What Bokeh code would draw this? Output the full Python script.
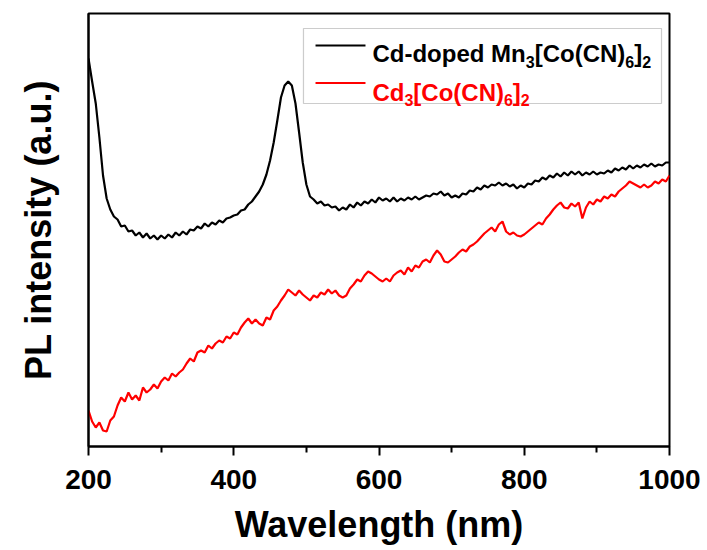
from bokeh.plotting import figure
from bokeh.models import Range1d, FixedTicker, Label, BoxAnnotation
from bokeh.embed import file_html
from bokeh.resources import INLINE
import numpy as np

# ---- data ----
wavelength = np.arange(200, 1001, 5)

mn_doped = [
    389, 366, 344, 310, 272, 249, 238, 231, 228, 221,
    222, 216, 217, 212, 215, 210, 214, 209, 212, 208,
    212, 209, 213, 210, 215, 212, 216, 213, 218, 217,
    221, 219, 224, 221, 225, 223, 227, 225, 229, 230,
    232, 233, 237, 238, 243, 246, 251, 256, 263, 273,
    287, 305, 327, 350, 362, 366, 362, 344, 315, 285,
    263, 251, 248, 244, 246, 242, 243, 240, 241, 237,
    240, 238, 243, 240, 245, 242, 246, 244, 248, 245,
    250, 247, 249, 246, 250, 246, 249, 247, 250, 248,
    251, 248, 250, 252, 251, 254, 253, 256, 252, 254,
    250, 252, 250, 254, 253, 257, 256, 260, 258, 262,
    260, 263, 262, 265, 262, 264, 261, 263, 259, 262,
    260, 264, 263, 267, 266, 270, 268, 272, 270, 274,
    271, 275, 272, 276, 273, 276, 272, 275, 273, 276,
    273, 275, 274, 277, 275, 279, 277, 280, 278, 282,
    279, 282, 280, 283, 281, 284, 281, 283, 282, 285,
    285,
]

cd_pure = [
    37, 26, 20, 25, 17, 16, 27, 31, 42, 50,
    46, 55, 48, 52, 47, 60, 55, 58, 63, 59,
    66, 70, 67, 74, 71, 75, 78, 84, 89, 86,
    95, 97, 95, 102, 99, 104, 107, 105, 111, 109,
    115, 113, 120, 125, 129, 124, 128, 124, 122, 130,
    128, 137, 141, 147, 152, 158, 155, 152, 157, 153,
    150, 147, 152, 150, 155, 153, 158, 154, 157, 152,
    150, 152, 159, 163, 168, 166, 172, 176, 174, 171,
    168, 166, 169, 166, 172, 175, 177, 173, 180, 176,
    182, 180, 186, 188, 185, 192, 197, 193, 186, 185,
    188, 191, 195, 198, 196, 201, 203, 206, 210, 214,
    217, 220, 216, 223, 226, 216, 213, 215, 212, 211,
    213, 216, 219, 222, 225, 223, 229, 233, 238, 242,
    245, 240, 239, 244, 241, 245, 229, 240, 246, 243,
    248, 246, 251, 249, 253, 251, 256, 259, 262, 266,
    264, 262, 260, 263, 260, 262, 266, 264, 268, 266,
    272,
]

x_ticks = [200, 400, 600, 800, 1000]
x_minor = [300, 500, 700, 900]

# legend label pieces: (text, is_subscript)
label_black = [("Cd-doped Mn", False), ("3", True), ("[Co(CN)", False), ("6", True), ("]", False), ("2", True)]
label_red = [("Cd", False), ("3", True), ("[Co(CN)", False), ("6", True), ("]", False), ("2", True)]

FONT = "Liberation Sans"

p = figure(width=707, height=550, x_range=Range1d(200, 1000), y_range=Range1d(1, 434),
           output_backend="svg", toolbar_location=None,
           min_border_left=88, min_border_right=38, min_border_top=13, min_border_bottom=104)
p.grid.visible = False
p.outline_line_color = "black"
p.outline_line_width = 2
p.background_fill_color = "white"
p.border_fill_color = "white"

xa = p.xaxis[0]
xa.ticker = FixedTicker(ticks=x_ticks, minor_ticks=x_minor)
xa.major_tick_in = 0
xa.major_tick_out = 9
xa.minor_tick_in = 0
xa.minor_tick_out = 6
xa.axis_line_width = 2
xa.major_tick_line_width = 2
xa.minor_tick_line_width = 2
xa.major_label_text_font = FONT
xa.major_label_text_font_style = "bold"
xa.major_label_text_font_size = "28px"
xa.major_label_text_color = "black"
xa.major_label_standoff = 14
xa.axis_label = "Wavelength (nm)"
xa.axis_label_text_font = FONT
xa.axis_label_text_font_style = "bold"
xa.axis_label_text_font_size = "36px"
xa.axis_label_text_color = "black"
xa.axis_label_standoff = 12

ya = p.yaxis[0]
ya.ticker = FixedTicker(ticks=[])
ya.major_tick_in = 0
ya.major_tick_out = 0
ya.minor_tick_in = 0
ya.minor_tick_out = 0
ya.axis_line_width = 2
ya.major_label_text_font_size = "0px"
ya.axis_label = "PL intensity (a.u.)"
ya.axis_label_text_font = FONT
ya.axis_label_text_font_style = "bold"
ya.axis_label_text_font_size = "36px"
ya.axis_label_text_color = "black"
ya.axis_label_standoff = 30

# legend box (drawn beneath the curves; the curves never enter it)
p.add_layout(BoxAnnotation(left=496, right=989, top=419, bottom=344,
                           fill_color="white", fill_alpha=1.0,
                           line_color="#555555", line_width=1.2, level="underlay"))

p.line(wavelength, mn_doped, line_color="black", line_width=2.2)
p.line(wavelength, cd_pure, line_color="#ff0000", line_width=2.2)

# legend sample lines
p.segment(x0=[512.6, 512.6], y0=[402, 364.5], x1=[581.4, 581.4], y1=[402, 364.5],
          line_color=["black", "#ff0000"], line_width=2)

# Arial/Liberation Sans Bold advance widths (per 1000 em)
W = {"C": 722, "d": 611, "-": 333, "o": 611, "p": 611, "e": 556, " ": 278, "M": 833,
     "n": 611, "[": 333, "(": 333, "N": 722, ")": 333, "]": 333,
     "2": 556, "3": 556, "6": 556}

def put(pieces, y, color):
    off = 0.0
    for txt, sub in pieces:
        size = 16 if sub else 24
        p.add_layout(Label(x=591, y=y, x_offset=off, y_offset=(-8 if sub else 0), text=txt,
                           text_font=FONT, text_font_style="bold",
                           text_font_size=f"{size}px", text_color=color,
                           text_baseline="alphabetic", text_align="left"))
        off += sum(W[c] for c in txt) * size / 1000.0

put(label_black, 394, "black")
put(label_red, 355.5, "#ff0000")

open("out.html", "w").write(file_html(p, INLINE))
